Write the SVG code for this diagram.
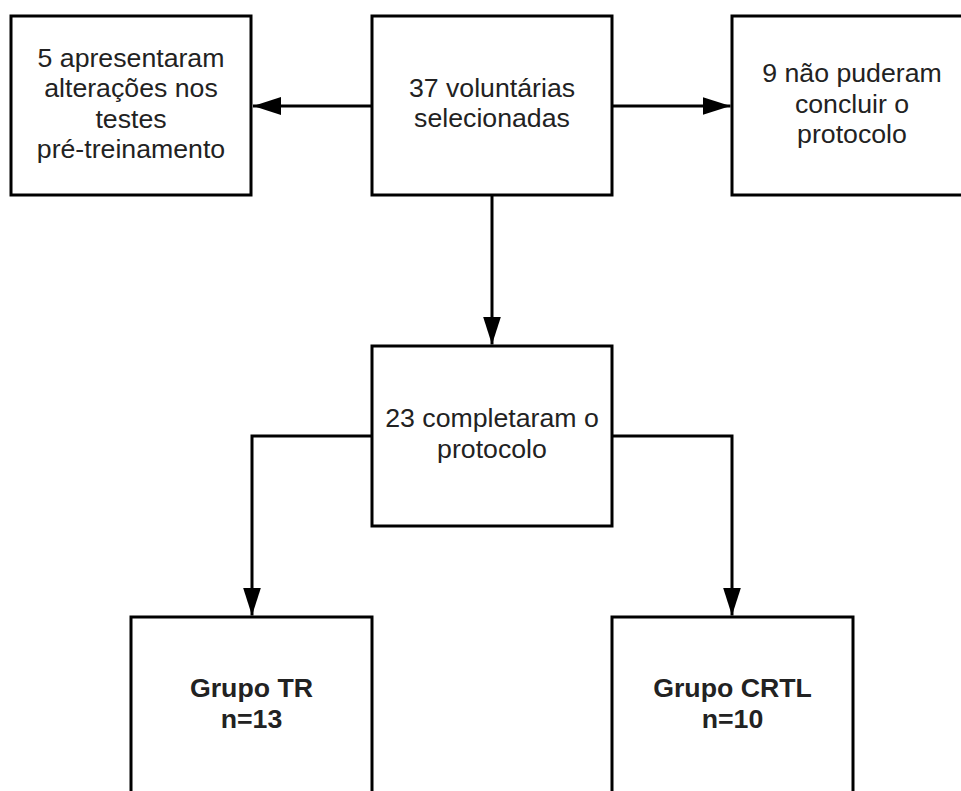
<svg xmlns="http://www.w3.org/2000/svg" width="961" height="791" viewBox="0 0 961 791">
<style>
.box{fill:#ffffff;stroke:#000000;stroke-width:3}
.conn{fill:none;stroke:#000000;stroke-width:3;marker-end:url(#arrow)}
.t{font-family:"Liberation Sans",Arial,sans-serif;font-size:26.7px;fill:#222222;text-anchor:middle}
.b{font-weight:bold}
</style>
<defs>
<marker id="arrow" viewBox="0 0 28 18" refX="28" refY="9" markerWidth="28" markerHeight="18" markerUnits="userSpaceOnUse" orient="auto">
<path d="M0,0 L28,9 L0,18 Z" fill="#000000"/>
</marker>
</defs>
<rect width="961" height="791" fill="#ffffff"/>
<g id="connectors">
<path class="conn" d="M372,106 H253"/>
<path class="conn" d="M612,106 H730.5"/>
<path class="conn" d="M492,195 V344.5"/>
<path class="conn" d="M372,436 H252 V615.5"/>
<path class="conn" d="M612,436 H732 V615.5"/>
</g>
<g id="n1">
<rect class="box" x="11" y="16" width="240" height="179"/>
<text class="t" x="131" y="66.7">5 apresentaram</text>
<text class="t" x="131" y="97.2">alterações nos</text>
<text class="t" x="131" y="127.7">testes</text>
<text class="t" x="131" y="158.2">pré-treinamento</text>
</g>
<g id="n2">
<rect class="box" x="372" y="16" width="240" height="179"/>
<text class="t" x="492" y="96.7">37 voluntárias</text>
<text class="t" x="492" y="127.3">selecionadas</text>
</g>
<g id="n3">
<rect class="box" x="732" y="16" width="240" height="179"/>
<text class="t" x="852" y="82">9 não puderam</text>
<text class="t" x="852" y="112.5">concluir o</text>
<text class="t" x="852" y="143">protocolo</text>
</g>
<g id="n4">
<rect class="box" x="372" y="346" width="240" height="180"/>
<text class="t" x="492" y="427">23 completaram o</text>
<text class="t" x="492" y="457.6">protocolo</text>
</g>
<g id="n5">
<rect class="box" x="131" y="617" width="241" height="180"/>
<text class="t b" x="251.5" y="696.7">Grupo TR</text>
<text class="t b" x="251.5" y="728">n=13</text>
</g>
<g id="n6">
<rect class="box" x="612" y="617" width="241" height="180"/>
<text class="t b" x="732.5" y="696.7">Grupo CRTL</text>
<text class="t b" x="732.5" y="728">n=10</text>
</g>
</svg>
